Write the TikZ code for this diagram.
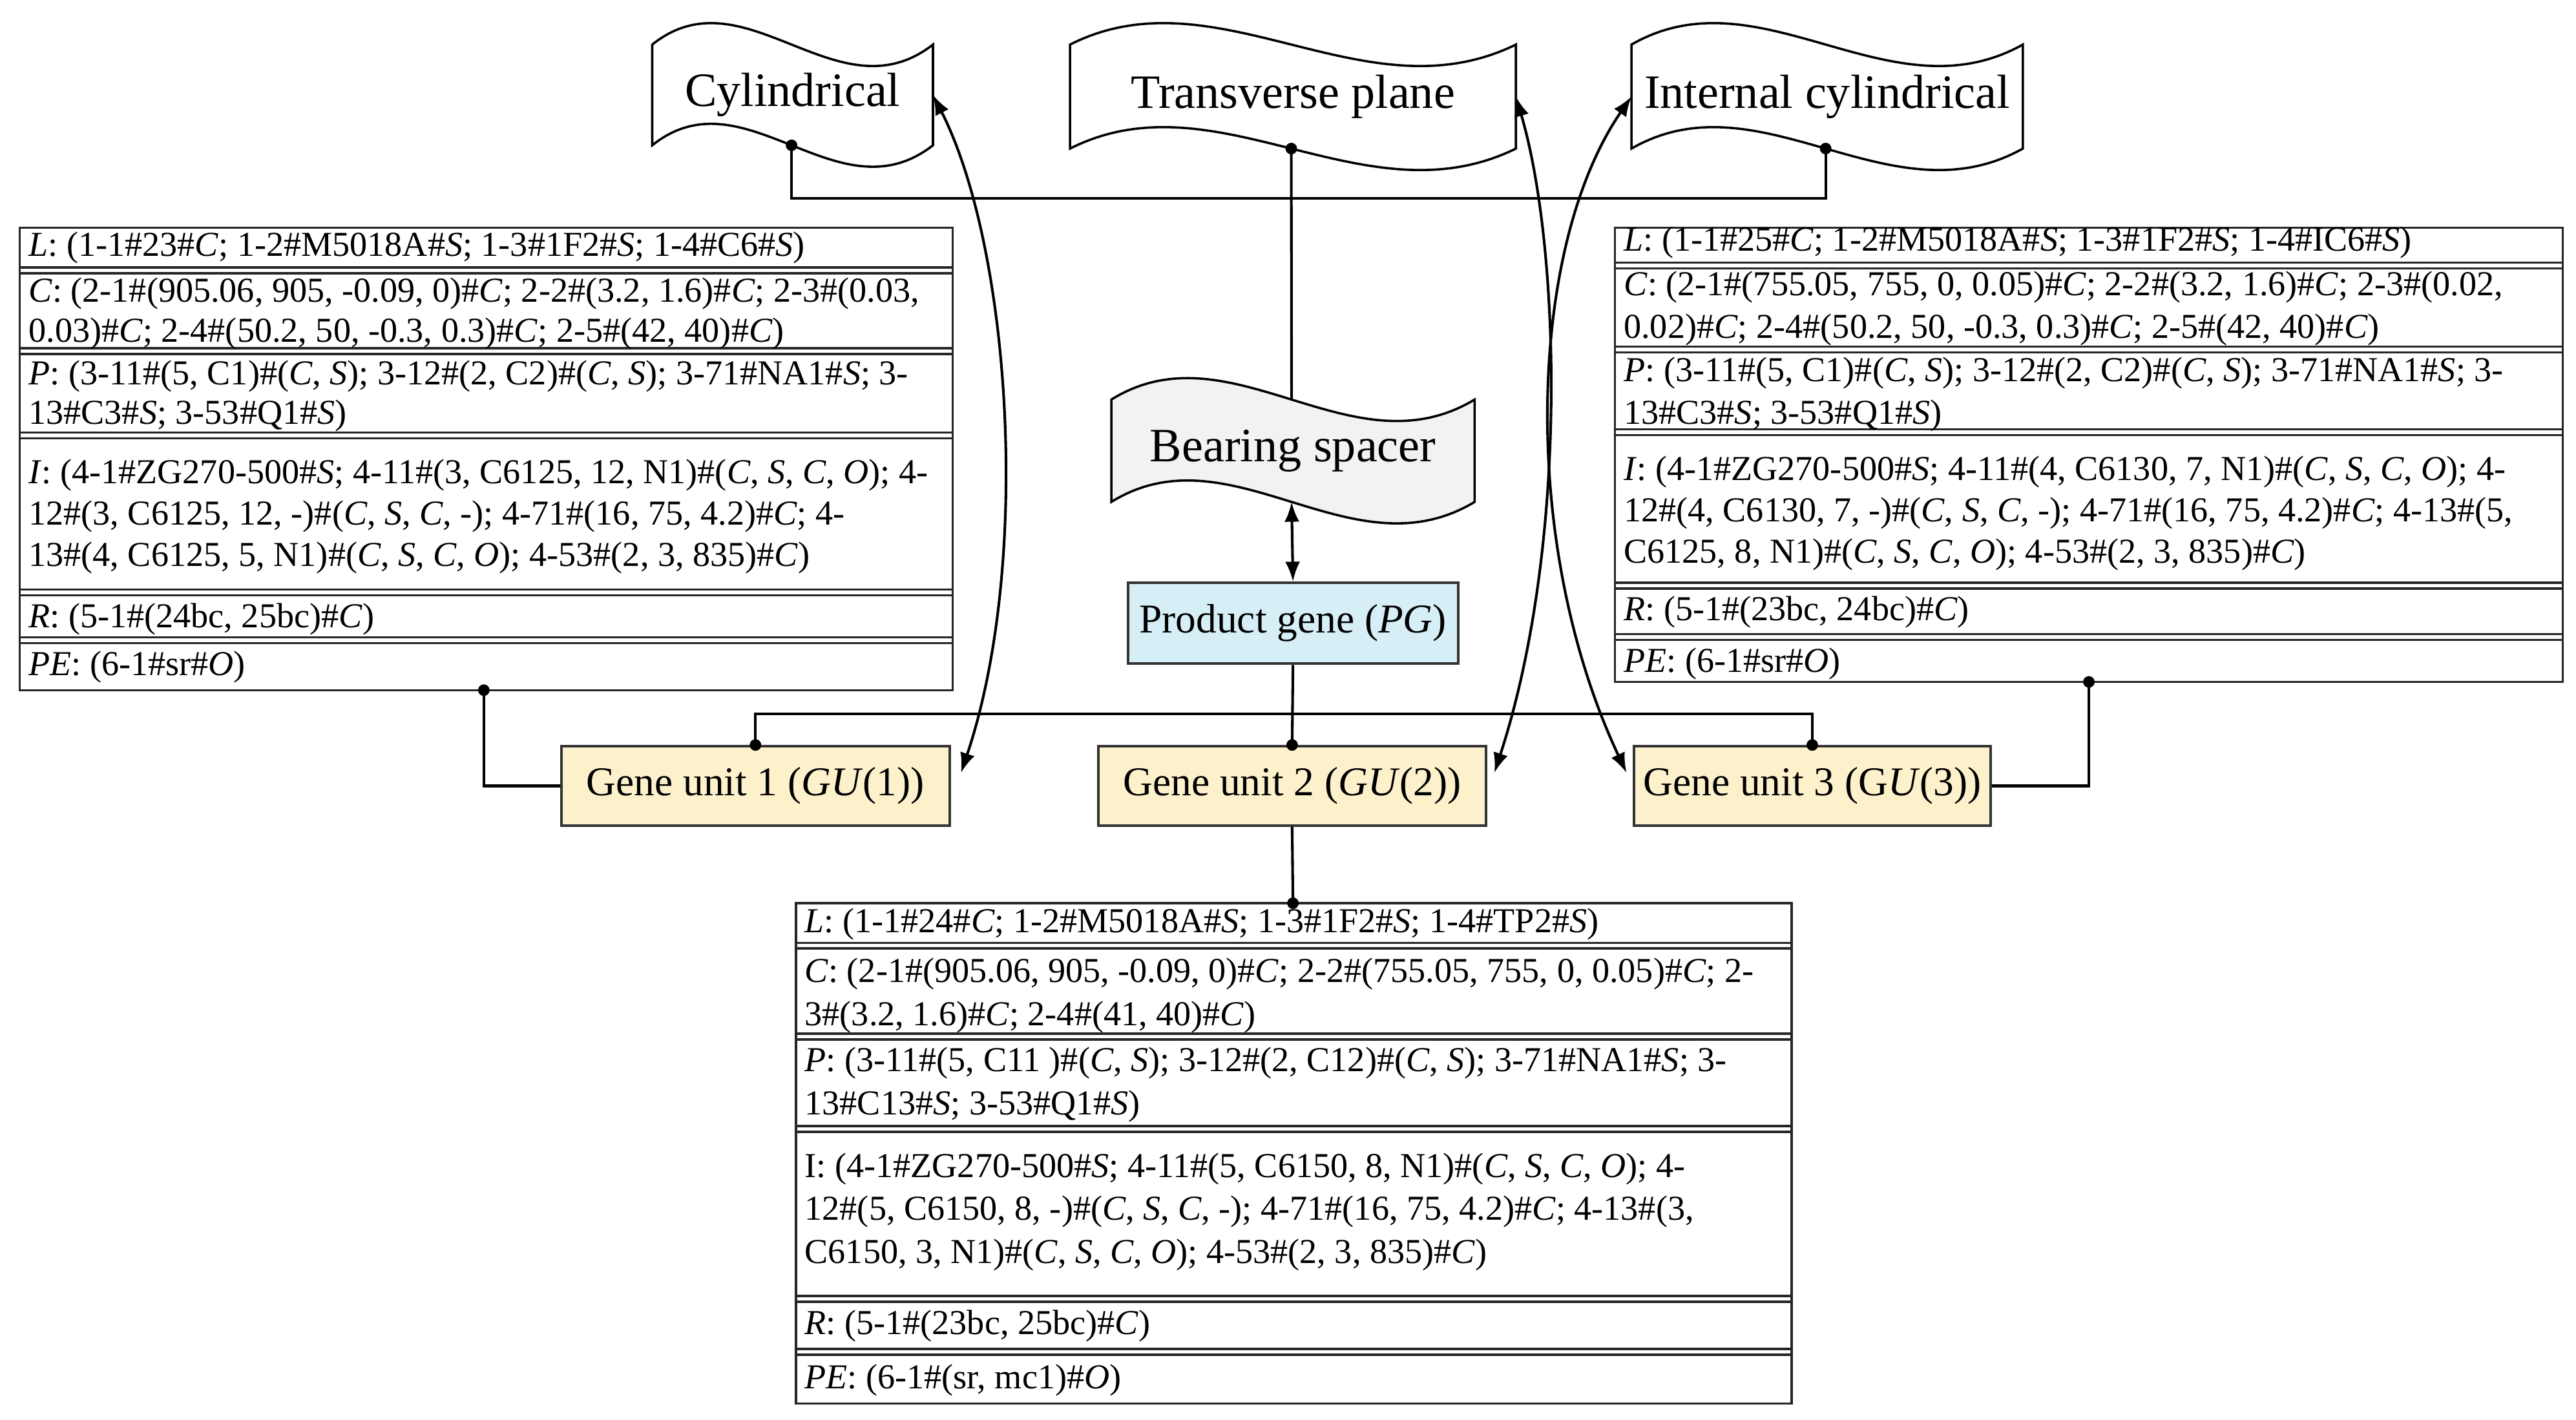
\documentclass[tikz,border=0pt]{standalone}
\usepackage{fontspec}
\setmainfont{Liberation Serif}
\usetikzlibrary{arrows.meta}
\definecolor{pgfill}{HTML}{D6EEF6}
\definecolor{gufill}{HTML}{FDF1CC}
\definecolor{bsfill}{HTML}{F2F2F2}
\tikzset{
  box/.style={draw=black!80, line width=0.8pt, inner sep=0pt, font=\fontsize{12.4}{14}\selectfont},
  con/.style={line width=0.8pt},
  dot/.style={circle, fill=black, inner sep=0pt, minimum size=3.5pt},
  arr/.style={line width=0.8pt, {Latex[length=6pt,width=4.5pt]}-{Latex[length=6pt,width=4.5pt]}},
  tl/.style={anchor=base west, inner sep=0pt, font=\fontsize{10.6}{12}\selectfont},
  tab/.style={draw=black!85, line width=0.7pt},
}
% tape shape: name, x1, y1, x2, y2, fill, text, font size
\newcommand{\tapeshape}[8]{%
  \pgfmathsetmacro{\ta}{#2+0.33*(#4-#2)}%
  \pgfmathsetmacro{\tb}{#2+0.66*(#4-#2)}%
  \draw[line width=0.7pt, fill=#6] (#2,#3) .. controls (\ta,#3-45) and (\tb,#3+45) .. (#4,#3) coordinate[pos=0.5] (#1-t)
    -- (#4,#5) .. controls (\tb,#5+45) and (\ta,#5-45) .. (#2,#5) coordinate[pos=0.5] (#1-b) -- cycle;
  \coordinate (#1-l) at (#2,{(#3+#5)/2});
  \coordinate (#1-r) at (#4,{(#3+#5)/2});
  \node[font=\fontsize{#8}{#8}\selectfont] (#1) at ({(#2+#4)/2},{(#3+#5)/2}) {#7};}
% double separator line
\newcommand{\dsep}[3]{\draw[tab] (#1,#3) -- (#2,#3); \draw[tab] (#1,#3+3.5) -- (#2,#3+3.5);}
\begin{document}
\begin{tikzpicture}[x=0.5pt,y=-0.5pt]
\useasboundingbox (0,0) rectangle (1560,860);
% tapes
\tapeshape{cyl}{395}{27}{565}{88}{white}{Cylindrical}{14.5}
\tapeshape{tra}{648}{27}{918}{90}{white}{Transverse plane}{14.5}
\tapeshape{int}{988}{27}{1225}{90}{white}{Internal cylindrical}{14.5}
\tapeshape{bs}{673}{242}{893}{304}{bsfill}{Bearing spacer}{14.5}
% boxes
\node[box, fill=pgfill, minimum width=100pt, minimum height=24.5pt] (pg) at (783,377.5) {Product gene (\textit{PG})};
\node[box, fill=gufill, minimum width=117.5pt, minimum height=24pt] (gu1) at (457.5,476) {Gene unit 1 (\textit{GU}(1))};
\node[box, fill=gufill, minimum width=117.5pt, minimum height=24pt] (gu2) at (782.5,476) {Gene unit 2 (\textit{GU}(2))};
\node[box, fill=gufill, minimum width=108pt, minimum height=24pt] (gu3) at (1097.5,476) {Gene unit 3 (G\textit{U}(3))};
% left table
\draw[tab] (12,138) rectangle (577,418);
\coordinate (lt) at (293,418);
\dsep{12}{577}{162}\dsep{12}{577}{211}\dsep{12}{577}{262}\dsep{12}{577}{357}\dsep{12}{577}{386}
\node[tl] at (17,155) {\textit{L}: (1-1\#23\#\textit{C}; 1-2\#M5018A\#\textit{S}; 1-3\#1F2\#\textit{S}; 1-4\#C6\#\textit{S})};
\node[tl] at (17,183) {\textit{C}: (2-1\#(905.06, 905, -0.09, 0)\#\textit{C}; 2-2\#(3.2, 1.6)\#\textit{C}; 2-3\#(0.03,};
\node[tl] at (17,207) {0.03)\#\textit{C}; 2-4\#(50.2, 50, -0.3, 0.3)\#\textit{C}; 2-5\#(42, 40)\#\textit{C})};
\node[tl] at (17,233) {\textit{P}: (3-11\#(5, C1)\#(\textit{C}, \textit{S}); 3-12\#(2, C2)\#(\textit{C}, \textit{S}); 3-71\#NA1\#\textit{S}; 3-};
\node[tl] at (17,257) {13\#C3\#\textit{S}; 3-53\#Q1\#\textit{S})};
\node[tl] at (17,293) {\textit{I}: (4-1\#ZG270-500\#\textit{S}; 4-11\#(3, C6125, 12, N1)\#(\textit{C}, \textit{S}, \textit{C}, \textit{O}); 4-};
\node[tl] at (17,318) {12\#(3, C6125, 12, -)\#(\textit{C}, \textit{S}, \textit{C}, -); 4-71\#(16, 75, 4.2)\#\textit{C}; 4-};
\node[tl] at (17,343) {13\#(4, C6125, 5, N1)\#(\textit{C}, \textit{S}, \textit{C}, \textit{O}); 4-53\#(2, 3, 835)\#\textit{C})};
\node[tl] at (17,380) {\textit{R}: (5-1\#(24bc, 25bc)\#\textit{C})};
\node[tl] at (17,409) {\textit{PE}: (6-1\#sr\#\textit{O})};
% right table
\draw[tab] (978,138) rectangle (1552,413);
\coordinate (rt) at (1265,413);
\dsep{978}{1552}{159}\dsep{978}{1552}{210}\dsep{978}{1552}{260}\dsep{978}{1552}{353}\dsep{978}{1552}{384}
\node[tl] at (983,152) {\textit{L}: (1-1\#25\#\textit{C}; 1-2\#M5018A\#\textit{S}; 1-3\#1F2\#\textit{S}; 1-4\#IC6\#\textit{S})};
\node[tl] at (983,179) {\textit{C}: (2-1\#(755.05, 755, 0, 0.05)\#\textit{C}; 2-2\#(3.2, 1.6)\#\textit{C}; 2-3\#(0.02,};
\node[tl] at (983,205) {0.02)\#\textit{C}; 2-4\#(50.2, 50, -0.3, 0.3)\#\textit{C}; 2-5\#(42, 40)\#\textit{C})};
\node[tl] at (983,231) {\textit{P}: (3-11\#(5, C1)\#(\textit{C}, \textit{S}); 3-12\#(2, C2)\#(\textit{C}, \textit{S}); 3-71\#NA1\#\textit{S}; 3-};
\node[tl] at (983,257) {13\#C3\#\textit{S}; 3-53\#Q1\#\textit{S})};
\node[tl] at (983,291) {\textit{I}: (4-1\#ZG270-500\#\textit{S}; 4-11\#(4, C6130, 7, N1)\#(\textit{C}, \textit{S}, \textit{C}, \textit{O}); 4-};
\node[tl] at (983,316) {12\#(4, C6130, 7, -)\#(\textit{C}, \textit{S}, \textit{C}, -); 4-71\#(16, 75, 4.2)\#\textit{C}; 4-13\#(5,};
\node[tl] at (983,341) {C6125, 8, N1)\#(\textit{C}, \textit{S}, \textit{C}, \textit{O}); 4-53\#(2, 3, 835)\#\textit{C})};
\node[tl] at (983,376) {\textit{R}: (5-1\#(23bc, 24bc)\#\textit{C})};
\node[tl] at (983,407) {\textit{PE}: (6-1\#sr\#\textit{O})};
% bottom table
\draw[tab] (482,547) rectangle (1085,850);
\coordinate (bt) at (783,547);
\dsep{482}{1085}{571}\dsep{482}{1085}{626}\dsep{482}{1085}{682}\dsep{482}{1085}{785}\dsep{482}{1085}{817}
\node[tl] at (487,565) {\textit{L}: (1-1\#24\#\textit{C}; 1-2\#M5018A\#\textit{S}; 1-3\#1F2\#\textit{S}; 1-4\#TP2\#\textit{S})};
\node[tl] at (487,595) {\textit{C}: (2-1\#(905.06, 905, -0.09, 0)\#\textit{C}; 2-2\#(755.05, 755, 0, 0.05)\#\textit{C}; 2-};
\node[tl] at (487,621) {3\#(3.2, 1.6)\#\textit{C}; 2-4\#(41, 40)\#\textit{C})};
\node[tl] at (487,649) {\textit{P}: (3-11\#(5, C11 )\#(\textit{C}, \textit{S}); 3-12\#(2, C12)\#(\textit{C}, \textit{S}); 3-71\#NA1\#\textit{S}; 3-};
\node[tl] at (487,675) {13\#C13\#\textit{S}; 3-53\#Q1\#\textit{S})};
\node[tl] at (487,713) {I: (4-1\#ZG270-500\#\textit{S}; 4-11\#(5, C6150, 8, N1)\#(\textit{C}, \textit{S}, \textit{C}, \textit{O}); 4-};
\node[tl] at (487,739) {12\#(5, C6150, 8, -)\#(\textit{C}, \textit{S}, \textit{C}, -); 4-71\#(16, 75, 4.2)\#\textit{C}; 4-13\#(3,};
\node[tl] at (487,765) {C6150, 3, N1)\#(\textit{C}, \textit{S}, \textit{C}, \textit{O}); 4-53\#(2, 3, 835)\#\textit{C})};
\node[tl] at (487,808) {\textit{R}: (5-1\#(23bc, 25bc)\#\textit{C})};
\node[tl] at (487,841) {\textit{PE}: (6-1\#(sr, mc1)\#\textit{O})};
% connectors
\draw[con] (cyl-b) -- ++(0,32) -| (int-b);
\draw[con] (tra-b) -- (bs-t);
\draw[arr] (bs-b) -- (pg.north);
\draw[con] (pg.south) -- (gu2.north);
\draw[con] (gu1.north) -- ++(0,-19) -| (gu3.north);
\draw[con] (lt) |- (gu1.west);
\draw[con] (rt) |- (gu3.east);
\draw[con] (gu2.south) -- (bt);
\foreach \p in {cyl-b,tra-b,int-b,gu1.north,gu2.north,gu3.north,lt,rt,bt} \node[dot] at (\p) {};
% curved arrows
\coordinate (a1) at (582,468);
\coordinate (a2) at (905,468);
\coordinate (a3) at (985,468);
\draw[arr] (a1) .. controls (625,340) and (612,150) .. (cyl-r);
\draw[arr] (a2) .. controls (950,330) and (945,150) .. (tra-r);
\draw[arr] (a3) .. controls (920,330) and (925,150) .. (int-l);
\end{tikzpicture}
\end{document}
